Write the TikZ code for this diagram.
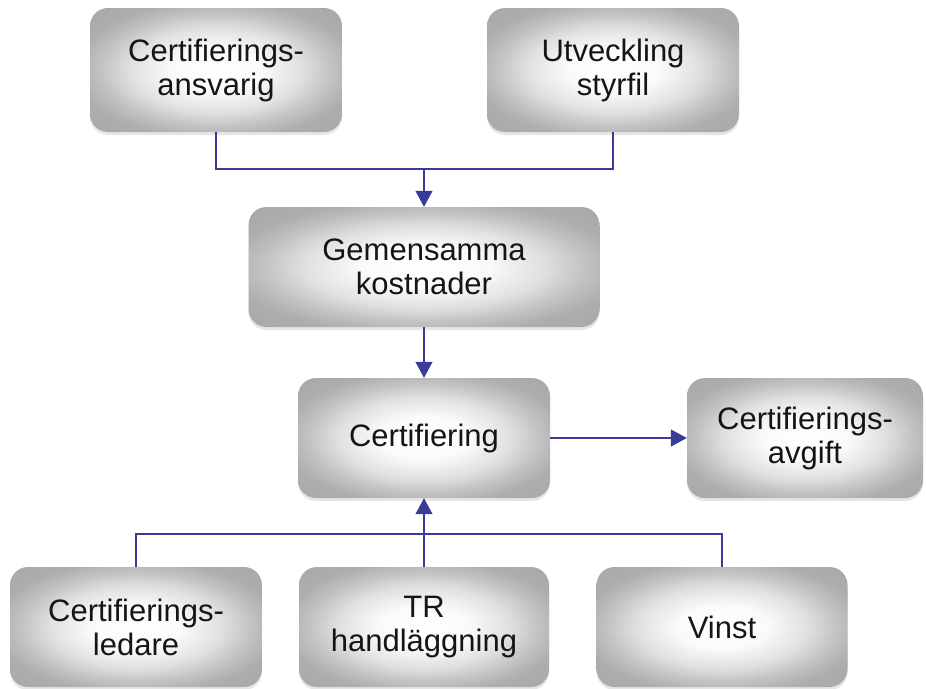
\documentclass[tikz,border=0pt]{standalone}
\usepackage{fontspec}
\setmainfont{Liberation Sans}
\usetikzlibrary{shadows,arrows.meta}
\pgfdeclareradialshading{boxshade}{\pgfpoint{0bp}{0bp}}{%
  rgb(0bp)=(1,1,1);
  rgb(9bp)=(0.98,0.98,0.98);
  rgb(17bp)=(0.88,0.88,0.88);
  rgb(23bp)=(0.76,0.76,0.76);
  rgb(28bp)=(0.68,0.68,0.68);
  rgb(50bp)=(0.62,0.62,0.62)}
\definecolor{conn}{HTML}{3A3A9A}
\definecolor{txt}{HTML}{151515}
\tikzset{
  box/.style={rectangle, rounded corners=18pt, shading=boxshade,
    draw=none, align=center, text=txt,
    font=\fontsize{31}{34}\selectfont,
    drop shadow={opacity=0.2, shadow xshift=0pt, shadow yshift=-3pt}},
  conline/.style={draw=conn, line width=1.3pt},
  conarrow/.style={conline, -{Triangle[width=17pt,length=16pt]}}
}
\begin{document}
\begin{tikzpicture}[x=1pt,y=-1pt]
\useasboundingbox (0,0) rectangle (926,688);
\node[box, minimum width=252pt, minimum height=124pt] (b1) at (216,70) {Certifierings-\\ansvarig};
\node[box, minimum width=252pt, minimum height=124pt] (b2) at (613,70) {Utveckling\\styrfil};
\node[box, minimum width=351pt, minimum height=120pt] (b3) at (424,267) {Gemensamma\\kostnader};
\node[box, minimum width=252pt, minimum height=120pt] (b4) at (424,438) {Certifiering};
\node[box, minimum width=236pt, minimum height=120pt] (b5) at (805,438) {Certifierings-\\avgift};
\node[box, minimum width=252pt, minimum height=120pt] (b6) at (136,627) {Certifierings-\\ledare};
\node[box, minimum width=250pt, minimum height=120pt] (b7) at (424,627) {TR\\handläggning};
\node[box, minimum width=251pt, minimum height=120pt] (b8) at (722,627) {Vinst};
\coordinate (j1) at (424,169);
\coordinate (j2) at (424,534);
\draw[conline] (b1.south) |- (j1) -| (b2.south);
\draw[conarrow] (j1) -- (b3.north);
\draw[conarrow] (b3.south) -- (b4.north);
\draw[conarrow] (b4.east) -- (b5.west);
\draw[conline] (b6.north) |- (j2) -| (b8.north);
\draw[conarrow] (b7.north) -- (b4.south);
\end{tikzpicture}
\end{document}
